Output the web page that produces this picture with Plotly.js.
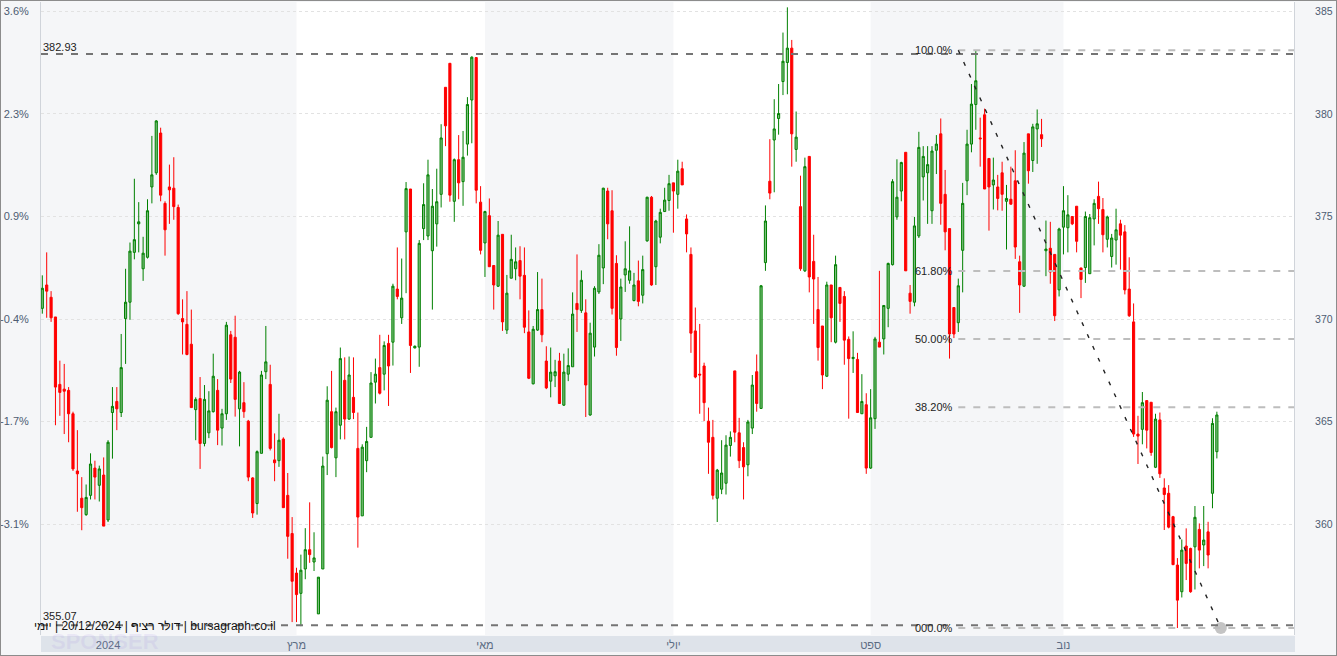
<!DOCTYPE html>
<html><head><meta charset="utf-8">
<script src="https://cdn.plot.ly/plotly-3.0.1.min.js"></script>
<style>
html,body{margin:0;padding:0;background:#fff;}
#frame{width:1335px;height:654px;border:1px solid #8c8c8c;overflow:hidden;}
#chart{width:1335px;height:654px;}
</style></head><body><div id="frame"><div id="chart"></div></div>
<script>
// ---- data (USD/ILS continuous, daily) ----
const openP = [370.52,371.66,371.06,370.10,366.81,366.58,366.52,365.38,362.59,361.26,
360.46,361.40,362.73,361.89,362.39,360.20,365.44,365.98,365.44,370.02,
370.82,373.25,374.64,372.45,373.01,376.44,377.13,379.07,375.64,376.44,
376.38,375.44,370.02,369.74,368.77,365.58,366.12,363.93,364.45,365.48,
366.52,364.68,365.38,369.23,369.11,365.62,365.92,365.02,362.25,361.00,
363.45,367.43,366.81,363.13,363.09,364.15,361.40,359.54,357.61,356.62,
357.81,358.75,358.15,355.62,357.81,363.43,365.48,363.23,364.82,367.01,
365.12,366.18,363.69,360.40,363.09,364.23,366.92,367.63,367.31,368.81,
368.87,371.46,370.06,374.25,376.34,368.59,368.63,374.41,374.05,373.33,
374.64,376.08,381.30,382.47,375.74,377.77,376.70,378.53,380.68,382.75,
375.70,373.71,375.04,372.61,371.60,374.13,369.46,371.99,372.45,372.85,
372.13,369.37,366.84,369.46,370.46,367.95,366.97,367.23,367.95,365.80,
367.31,367.67,370.76,370.42,370.30,365.32,368.63,371.32,372.49,376.24,
375.28,372.71,370.00,372.15,371.89,370.90,371.86,371.16,373.81,375.94,
372.55,373.99,375.24,375.78,376.64,376.08,377.33,374.88,373.15,369.42,
367.31,367.71,365.02,364.23,361.26,361.70,361.99,363.83,367.47,364.45,
363.73,362.89,364.68,367.43,365.64,372.75,376.72,378.73,379.78,381.58,
382.51,383.21,378.27,375.48,372.35,377.93,372.81,370.46,369.66,367.21,
371.66,368.87,371.54,371.10,369.01,368.07,368.03,365.38,365.82,362.73,
365.14,368.87,369.03,370.52,372.65,374.98,376.24,378.13,371.26,370.82,
374.05,376.93,377.13,375.28,378.23,379.03,376.08,374.41,370.56,369.82,
373.35,376.74,378.53,380.46,378.83,379.96,377.83,376.54,376.44,377.13,
375.74,375.84,376.74,372.79,371.60,379.03,377.73,379.27,378.99,373.33,
373.45,373.15,371.42,374.48,374.45,375.00,375.50,372.49,372.51,372.21,
374.88,375.98,375.34,373.89,373.05,373.85,374.64,374.25,371.46,369.86,
364.39,364.62,366.02,365.94,362.77,365.08,361.76,361.50,360.36,358.00,
356.70,358.93,358.81,358.89,359.74,358.98,359.62,361.50,363.53];

const highP = [372.13,373.25,371.36,370.10,367.97,367.81,366.68,365.48,364.58,362.29,
361.93,363.45,363.09,362.85,363.25,364.09,366.68,366.68,369.27,372.45,
373.73,376.84,375.70,374.01,375.84,378.93,379.70,379.33,375.74,377.53,
377.89,375.58,370.96,371.36,370.46,366.18,367.17,366.78,366.48,368.31,
367.07,365.62,369.86,369.42,370.16,367.47,366.92,365.08,362.29,363.59,
367.47,369.66,367.77,364.42,365.38,364.23,362.49,360.34,357.87,358.51,
359.80,361.06,359.60,357.41,363.29,366.72,367.47,365.68,368.61,368.13,
368.17,368.13,365.44,363.89,364.74,367.41,368.07,369.23,368.91,369.23,
371.72,373.49,372.95,376.68,376.34,368.71,373.85,376.62,377.77,376.34,
377.33,379.50,381.30,382.47,377.83,378.97,379.17,380.82,382.81,382.75,
376.48,375.28,375.88,372.61,374.78,374.13,372.15,374.11,373.49,373.55,
373.49,370.42,369.66,372.29,371.97,368.67,368.61,368.01,368.35,368.31,
368.57,371.30,373.15,372.37,370.96,369.82,371.60,373.65,376.40,376.40,
376.28,373.11,371.97,373.79,374.52,372.25,372.85,373.09,375.96,376.00,
374.84,375.38,376.40,377.03,376.64,377.77,377.67,375.10,373.49,370.56,
369.76,367.87,365.68,365.08,362.69,364.09,364.33,364.52,367.47,365.18,
363.99,365.08,367.27,368.27,371.66,375.54,378.77,380.72,381.46,383.97,
385.20,383.61,380.12,376.99,377.87,377.93,374.11,372.05,369.66,371.82,
371.66,373.09,371.54,371.36,369.15,369.40,368.35,367.31,366.38,366.58,
369.13,372.35,370.66,372.75,376.82,377.79,377.67,378.13,371.66,374.98,
379.13,378.43,378.43,378.43,378.97,379.78,377.27,374.41,370.56,371.97,
376.64,379.23,381.46,383.11,379.82,380.26,377.83,377.87,377.03,377.67,
376.54,377.43,378.23,373.09,378.63,379.03,379.52,380.22,379.76,374.80,
374.74,373.15,374.45,376.48,376.04,375.00,375.50,372.49,375.24,375.12,
375.84,376.70,375.90,375.04,374.15,375.38,374.84,374.58,373.01,370.76,
365.28,366.44,366.04,365.94,365.38,365.44,362.23,361.90,360.40,358.34,
359.25,359.79,358.85,360.88,360.03,360.88,360.11,365.16,365.48];

const lowP = [370.26,370.06,369.86,364.82,365.28,364.39,363.99,362.59,360.60,359.70,
360.40,361.20,361.20,361.10,359.90,360.10,363.19,364.58,365.22,367.81,
369.96,372.91,373.25,371.86,372.95,375.64,377.03,375.74,373.09,374.64,
374.84,370.20,368.27,368.23,365.68,364.09,362.69,363.79,364.19,365.44,
363.85,363.83,365.08,366.88,365.24,363.79,365.18,362.09,360.30,360.46,
363.45,367.07,363.59,362.09,362.79,360.80,358.31,355.22,355.22,355.02,
357.31,358.11,357.71,355.62,357.81,362.39,363.69,362.29,364.13,364.13,
365.08,365.12,358.85,360.40,362.53,364.23,365.88,366.32,366.52,365.76,
367.73,370.96,369.76,371.26,367.37,368.57,367.67,373.85,373.85,370.46,
373.53,375.44,378.43,375.72,374.74,375.84,375.52,377.97,378.57,375.64,
373.15,372.05,372.55,370.46,371.56,369.42,369.27,371.99,371.89,370.96,
369.31,367.07,366.81,369.42,368.87,366.58,366.18,366.68,365.88,365.76,
366.97,367.67,369.37,370.30,365.22,365.28,368.17,371.22,371.70,373.89,
370.22,368.21,368.93,371.32,371.72,370.86,370.62,370.76,373.77,371.62,
371.66,373.69,375.24,375.28,374.21,375.38,376.54,373.25,368.35,367.11,
365.38,365.02,362.45,361.20,360.10,361.46,361.44,363.29,363.99,362.73,
361.20,362.33,364.39,365.48,365.62,372.35,375.84,376.18,378.99,380.92,
380.96,377.43,377.67,372.35,372.29,371.30,369.76,367.97,366.58,367.17,
368.87,368.81,369.86,367.77,365.14,367.37,365.44,365.38,362.45,362.69,
364.64,368.63,368.27,369.60,372.61,374.84,375.74,372.35,370.26,370.62,
373.95,375.78,374.64,374.64,377.07,374.60,373.35,368.07,369.07,369.37,
371.30,376.04,378.13,379.23,377.43,376.34,374.31,375.34,375.30,375.28,
373.39,375.58,372.93,370.30,371.56,376.60,377.17,377.57,378.39,372.09,
371.72,369.90,371.10,373.15,373.25,374.58,373.25,371.02,371.76,372.21,
373.59,374.64,373.25,373.49,372.51,372.65,372.41,371.20,370.10,364.25,
362.93,363.89,363.69,363.33,362.73,362.25,359.71,359.79,358.00,354.93,
356.42,357.27,356.65,356.81,357.84,357.95,357.84,360.77,363.20];

const closeP = [371.50,371.36,370.06,366.68,366.42,366.48,365.38,362.69,362.45,360.80,
361.30,362.93,362.29,362.69,359.90,363.99,365.74,365.62,367.63,370.82,
373.31,373.87,374.74,373.21,375.28,377.03,379.66,376.04,374.35,376.30,
375.48,370.26,369.86,368.27,365.68,366.08,363.93,366.08,365.52,367.21,
364.58,365.38,369.70,367.07,366.08,367.41,365.48,362.29,360.54,363.53,
367.27,367.91,363.69,362.99,364.09,360.80,359.40,357.21,356.56,357.75,
358.75,358.51,358.35,357.41,362.83,366.04,363.73,365.48,368.07,365.12,
367.27,365.44,360.34,363.75,364.03,366.88,367.31,366.38,368.71,367.71,
371.60,371.10,371.02,376.36,368.71,368.67,373.69,375.58,377.03,375.50,
375.72,378.83,379.42,376.04,377.77,376.64,377.89,380.46,382.77,376.28,
373.35,375.24,372.55,371.66,374.09,369.86,371.26,372.91,372.79,372.09,
369.60,367.11,369.50,370.46,369.23,366.64,367.41,367.43,365.88,367.41,
367.73,370.24,370.46,371.89,366.78,369.31,371.50,373.11,376.38,374.64,
370.52,368.61,371.56,372.45,372.35,371.66,370.86,372.41,375.94,371.66,
374.78,375.20,375.80,376.60,376.24,377.21,376.54,374.15,369.31,367.17,
367.27,365.92,363.99,361.40,362.63,362.49,363.85,364.23,364.48,363.09,
362.79,364.98,366.78,365.88,371.62,374.78,376.14,379.27,380.02,382.57,
383.21,379.03,378.87,372.45,377.43,372.05,371.95,368.61,367.27,371.66,
370.06,372.65,370.76,368.97,368.07,368.13,365.44,365.98,362.73,365.18,
369.03,368.63,370.66,372.71,376.70,375.94,377.63,372.35,370.86,374.54,
378.37,377.93,377.53,378.19,378.53,375.64,374.25,369.27,369.27,371.62,
375.64,378.53,380.48,381.62,378.79,376.34,376.44,376.78,375.88,376.08,
375.88,375.60,373.51,371.66,378.09,377.23,379.37,379.52,378.79,373.41,
372.29,370.16,374.39,375.28,375.08,374.64,373.79,371.93,375.00,374.94,
375.64,375.38,374.11,374.98,373.95,374.35,374.09,371.42,370.16,364.39,
364.29,365.92,364.58,363.49,365.12,362.45,361.44,359.85,358.02,356.29,
358.73,358.08,356.70,360.33,358.73,359.22,358.49,364.91,365.32];

const dayIndex = openP.map((_, i) => i);

const priceTicks = [360, 365, 370, 375, 380, 385];
const pctLabels = ['-3.1%', '-1.7%', '-0.4%', '0.9%', '2.3%', '3.6%'];
const monthPos = [15, 58, 101, 144, 189, 233];
const monthLabels = ['2024', 'מרץ', 'מאי', 'יולי', 'ספט', 'נוב'];

const refHigh = 382.93;
const refLow = 355.07;
const fibHigh = 383.11;
const fibLow = 354.93;
const fibStart = 209;
const fibEnd = 268.9;
const fibRatios = [1, 0.618, 0.5, 0.382, 0];
const fibLabels = ['100.0%', '61.80%', '50.00%', '38.20%', '000.0%'];
const captionText = '\u202Bbursagraph.co.il | דולר רציף | 20/12/2024 | יומי\u202C';

// ---- layout constants ----
const W = 1335, H = 654;
const M = {l: 40, r: 42, t: 1, b: 20, pad: 0};
const plotW = W - M.l - M.r;
const plotH = H - M.t - M.b;
const xRange = [-0.3, 285.6];
const yRange = [354.59, 385.46];
const FONT = 'Liberation Sans, Arial, sans-serif';
const AXC = '#4d5c72';

const shapes = [];
// alternating two-month bands
const bandEdges = [xRange[0], monthPos[1], monthPos[2], monthPos[3], monthPos[4], monthPos[5]];
for (let k = 0; k < bandEdges.length; k += 2) {
  shapes.push({type: 'rect', xref: 'x', yref: 'paper', x0: bandEdges[k], x1: bandEdges[k + 1],
    y0: 0, y1: 1, fillcolor: '#f5f6f8', line: {width: 0}, layer: 'below'});
}
// date strip
shapes.push({type: 'rect', xref: 'paper', yref: 'paper', x0: 0, x1: 1 + 1 / plotW,
  y0: -1 / plotH, y1: -17 / plotH, fillcolor: '#dee3ea', line: {width: 0}, layer: 'below'});
// reference lines
[refHigh, refLow].forEach(v => shapes.push({type: 'line', xref: 'paper', yref: 'y', x0: 0, x1: 1,
  y0: v, y1: v, line: {color: '#747474', width: 2, dash: '7px,8px'}}));
// fibonacci levels
fibRatios.forEach(r => {
  const v = fibLow + r * (fibHigh - fibLow);
  shapes.push({type: 'line', xref: 'x', yref: 'y', x0: fibStart, x1: xRange[1], y0: v, y1: v,
    line: {color: '#bdbdbd', width: 2, dash: '7px,8px'}});
});
// fib trend line
shapes.push({type: 'line', xref: 'x', yref: 'y', x0: fibStart, y0: fibHigh, x1: fibEnd, y1: fibLow,
  line: {color: '#222222', width: 1.4, dash: '4px,9px'}});

const annotations = [];
annotations.push({xref: 'paper', yref: 'y', x: 0, y: refHigh, xanchor: 'left', yanchor: 'bottom',
  text: refHigh.toFixed(2), showarrow: false, font: {family: FONT, size: 11, color: '#222'}, yshift: -1});
annotations.push({xref: 'paper', yref: 'y', x: 0, y: refLow, xanchor: 'left', yanchor: 'bottom',
  text: refLow.toFixed(2), showarrow: false, font: {family: FONT, size: 11, color: '#222'}, yshift: 1});
annotations.push({xref: 'paper', yref: 'y', x: (277 - M.l) / plotW, y: refLow, xanchor: 'right', yanchor: 'middle',
  text: captionText, showarrow: false, font: {family: FONT, size: 12, color: '#111'}, yshift: -1});
fibRatios.forEach((r, i) => {
  annotations.push({xref: 'x', yref: 'y', x: fibStart, y: fibLow + r * (fibHigh - fibLow),
    xanchor: 'right', yanchor: 'middle', xshift: -3, text: fibLabels[i], showarrow: false,
    font: {family: FONT, size: 11, color: '#222'}});
});
annotations.push({xref: 'paper', yref: 'paper', x: 8 / plotW, y: -6 / plotH, xanchor: 'left', yanchor: 'middle',
  text: '<b>SPONSER</b>', showarrow: false, font: {family: FONT, size: 22, color: 'rgba(150,130,225,0.12)'}});

const traces = [
  {type: 'candlestick', x: dayIndex, open: openP, high: highP, low: lowP, close: closeP,
   increasing: {line: {color: '#008000', width: 1}, fillcolor: 'rgba(0,128,0,0.5)'},
   decreasing: {line: {color: '#ff0000', width: 1}, fillcolor: '#ff0000'},
   whiskerwidth: 0, hoverinfo: 'skip', showlegend: false, yaxis: 'y'},
  {type: 'scatter', mode: 'markers', x: [fibEnd], y: [fibLow], yaxis: 'y2',
   marker: {size: 12, color: '#c4c4c4'}, cliponaxis: false, hoverinfo: 'skip', showlegend: false}
];

const layout = {
  width: W, height: H, margin: M,
  paper_bgcolor: '#f5f6f8', plot_bgcolor: '#ffffff',
  font: {family: FONT, size: 11, color: AXC},
  showlegend: false, hovermode: false, dragmode: false,
  xaxis: {range: xRange, tickvals: monthPos, ticktext: monthLabels, showgrid: false, zeroline: false,
    ticks: '', ticklabelstandoff: 2, tickfont: {family: FONT, size: 11, color: '#5b6b82'},
    rangeslider: {visible: false}, fixedrange: true, showline: false},
  yaxis: {range: yRange, side: 'right', tickvals: priceTicks, ticktext: priceTicks.map(String),
    showgrid: true, gridcolor: '#e2e2e2', griddash: 'dot', gridwidth: 1, zeroline: false,
    ticks: '', ticklabelstandoff: 18, tickfont: {family: FONT, size: 10.5, color: AXC},
    showline: true, linecolor: '#d0d4da', linewidth: 1, fixedrange: true},
  yaxis2: {range: yRange, overlaying: 'y', side: 'left', tickvals: priceTicks, ticktext: pctLabels,
    showgrid: false, zeroline: false, ticks: '', ticklabelstandoff: 9,
    tickfont: {family: FONT, size: 11, color: AXC},
    showline: true, linecolor: '#d0d4da', linewidth: 1, fixedrange: true},
  shapes: shapes, annotations: annotations
};

Plotly.newPlot('chart', traces, layout, {displayModeBar: false, staticPlot: true});
</script></body></html>
